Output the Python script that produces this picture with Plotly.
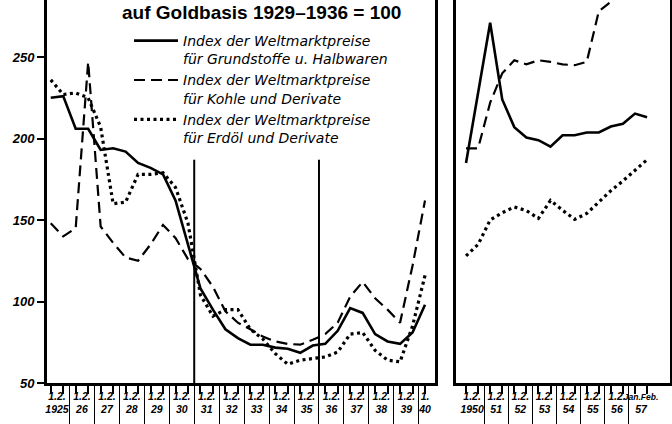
import plotly.graph_objects as go

# ---------------- data (semi-annual index values, 1929-1936 = 100) ----------------
periods_a = [f"{y}/{h}" for y in range(1925, 1940) for h in (1, 2)] + ["1940/1"]
grund_a = [225, 226, 206, 206, 193, 194, 192, 185, 182, 178, 162, 135, 108, 95, 83, 77.5,
           73.5, 73.5, 71.7, 71, 68.5, 73, 74, 82, 96, 93, 80, 75.5, 74, 81, 98]
kohle_a = [148, 140, 145, 247, 146, 136, 127, 125, 135, 147, 139, 126, 120, 109, 94, 87,
           83, 78.5, 75.5, 74, 73.5, 76.5, 80, 87, 103, 112, 102, 95, 87, 122, 162]
erdoel_a = [236, 227, 228, 225, 207, 160, 161, 178, 178, 179, 170, 148, 104, 91, 95, 95,
            83, 77, 68, 61.5, 64, 65, 66, 69, 80, 81, 70, 64, 63, 85, 116]

periods_b = [f"{y}/{h}" for y in range(1950, 1957) for h in (1, 2)] + ["1957/Jan", "1957/Feb"]
grund_b = [185, 228, 271, 224, 207, 200.6, 199, 195, 202, 202, 203.7, 203.7, 207.4, 209, 215.3, 213]
kohle_b = [194, 194, 222, 240, 248, 245.5, 248, 247, 245.5, 245, 247, 278, 284, 290, 293, 296]
erdoel_b = [128, 135, 150, 154.5, 158, 155.8, 151, 162, 156, 150.4, 154, 161, 168, 174, 180.5, 187]

labels_a = ["1.2.<br>1925", "1.2.<br>26", "1.2.<br>27", "1.2.<br>28", "1.2.<br>29", "1.2.<br>30",
            "1.2.<br>31", "1.2.<br>32", "1.2.<br>33", "1.2.<br>34", "1.2.<br>35", "1.2.<br>36",
            "1.2.<br>37", "1.2.<br>38", "1.2.<br>39", "1.<br>40"]
labels_b = ["1.2.<br>1950", "1.2.<br>51", "1.2.<br>52", "1.2.<br>53", "1.2.<br>54", "1.2.<br>55",
            "1.2.<br>56", "<span style='font-size:8.5px'>Jan.Feb.</span><br>57"]

series_names = ["Index der Weltmarktpreise<br>für Grundstoffe u. Halbwaren",
                "Index der Weltmarktpreise<br>für Kohle und Derivate",
                "Index der Weltmarktpreise<br>für Erdöl und Derivate"]
y_ticks = [50, 100, 150, 200, 250]
period_marks = [1931, 1936]
title_text = "auf Goldbasis 1929–1936 = 100"


def year_groups(periods):
    years, groups = [], {}
    for i, p in enumerate(periods):
        y = p.split("/")[0]
        if y not in groups:
            years.append(y)
            groups[y] = []
        groups[y].append(i)
    centers = [sum(groups[y]) / len(groups[y]) for y in years]
    seps = [(groups[years[k]][-1] + groups[years[k + 1]][0]) / 2 for k in range(len(years) - 1)]
    return years, centers, seps, groups


years_a, centers_a, seps_a, groups_a = year_groups(periods_a)
years_b, centers_b, seps_b, groups_b = year_groups(periods_b)
xa = list(range(len(periods_a)))
xb = list(range(len(periods_b)))

styles = [dict(color="black", width=2.6),
          dict(color="black", width=2.2, dash="11px,6px"),
          dict(color="black", width=3.2, dash="3px,3.5px")]

fig = go.Figure()
for vals, name, st in zip([grund_a, kohle_a, erdoel_a], series_names, styles):
    fig.add_trace(go.Scatter(x=xa, y=vals, mode="lines", name=name, line=st,
                             xaxis="x", yaxis="y", hoverinfo="skip"))
for vals, name, st in zip([grund_b, kohle_b, erdoel_b], series_names, styles):
    fig.add_trace(go.Scatter(x=xb, y=vals, mode="lines", name=name, line=st, showlegend=False,
                             xaxis="x2", yaxis="y2", hoverinfo="skip"))
# carriers for the label axes
fig.add_trace(go.Scatter(x=[centers_a[0]], y=[None], xaxis="x3", yaxis="y", showlegend=False,
                         hoverinfo="skip", mode="lines"))
fig.add_trace(go.Scatter(x=[centers_b[0]], y=[None], xaxis="x4", yaxis="y2", showlegend=False,
                         hoverinfo="skip", mode="lines"))

W, H = 672, 424
dom_a = [47 / W, 435 / W]
dom_b = [456 / W, 670 / W]
rng_a = [-0.3, len(periods_a) - 0.2]
rng_b = [-0.83, len(periods_b) + 0.9]
yr = [50, 285]

tickfont = dict(family="Liberation Sans", size=10.5, color="black", weight="bold", style="italic")

base_x = dict(showgrid=False, zeroline=False, showline=True, linewidth=3, linecolor="black",
              ticks="outside", ticklen=38, tickwidth=1.2, tickcolor="black",
              showticklabels=False, tickmode="array", automargin=False)
lab_x = dict(showgrid=False, zeroline=False, showline=False, ticks="", tickmode="array",
             tickfont=tickfont, side="bottom", tickangle=0, ticklabelstandoff=5,
             automargin=False)

fig.update_layout(
    width=W, height=H, paper_bgcolor="white", plot_bgcolor="white",
    margin=dict(l=0, r=0, t=0, b=41, autoexpand=False),
    xaxis=dict(domain=dom_a, range=rng_a, anchor="y", tickvals=seps_a,
               minor=dict(tickmode="array", tickvals=xa, ticks="outside", ticklen=8,
                          tickwidth=1.5, tickcolor="black"), **base_x),
    xaxis2=dict(domain=dom_b, range=rng_b, anchor="y2", tickvals=seps_b,
                minor=dict(tickmode="array", tickvals=xb, ticks="outside", ticklen=8,
                           tickwidth=1.5, tickcolor="black"), **base_x),
    xaxis3=dict(overlaying="x", anchor="y", range=rng_a, tickvals=centers_a, ticktext=labels_a, **lab_x),
    xaxis4=dict(overlaying="x2", anchor="y2", range=rng_b, tickvals=centers_b, ticktext=labels_b, **lab_x),
    yaxis=dict(domain=[0, 1], range=yr, anchor="x", tickmode="array", tickvals=y_ticks,
               ticks="outside", ticklen=7, tickwidth=1.5, tickcolor="black",
               showline=True, linewidth=3, linecolor="black", mirror=True, automargin=False,
               showgrid=False, zeroline=False, tickfont=dict(tickfont, size=13)),
    yaxis2=dict(domain=[0, 1], range=yr, anchor="x2", showticklabels=False, ticks="",
                showline=True, linewidth=3, linecolor="black", mirror=True, automargin=False,
                showgrid=False, zeroline=False),
    legend=dict(x=129 / W, y=1 - 25 / 383, xanchor="left", yanchor="top",
                bgcolor="rgba(0,0,0,0)", valign="top", itemwidth=44, tracegroupgap=0,
                font=dict(family="DejaVu Sans", size=14, color="black", style="italic")),
    showlegend=True,
)

for yv in period_marks:
    xm = (groups_a[str(yv - 1)][-1] + groups_a[str(yv)][0]) / 2
    fig.add_shape(type="line", xref="x", yref="y", x0=xm, x1=xm, y0=yr[0], y1=187,
                  line=dict(color="black", width=2))

fig.add_annotation(text=title_text, xref="paper", yref="paper", x=261 / W, y=1 - 12 / 383,
                   xanchor="center", yanchor="middle", showarrow=False,
                   font=dict(family="Liberation Sans", size=19, color="black", weight="bold"))

fig.write_html("out.html", config={"displayModeBar": False},
               post_script="document.body.style.margin='0px';document.body.style.overflow='hidden';")
